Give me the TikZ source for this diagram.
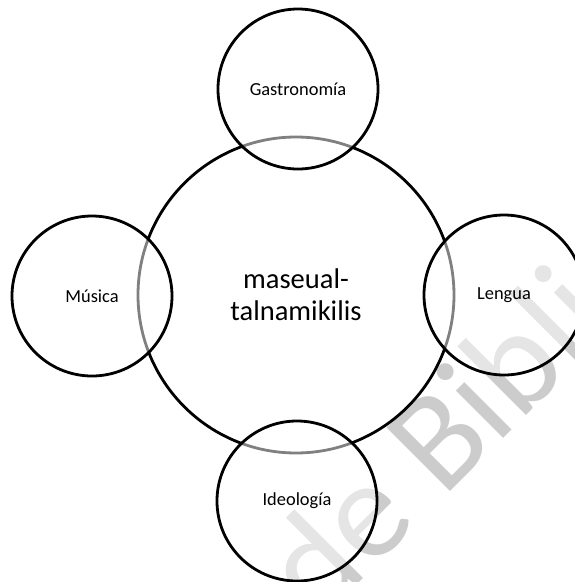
\documentclass[tikz,border=0pt]{standalone}
\usepackage{fontspec}
\setmainfont{Carlito}
\usepackage{tikz}
\usetikzlibrary{positioning}

\begin{document}
\begin{tikzpicture}[x=1pt, y=-1pt,
  bigcircle/.style={circle, draw=black, line width=2.8pt, minimum size=316pt, inner sep=0pt, align=center, font=\fontsize{28.5}{32}\selectfont},
  smallcircle/.style={circle, draw=black, line width=2.8pt, fill=white, fill opacity=0.5, text opacity=1, minimum size=160pt, inner sep=0pt, font=\fontsize{18.4}{22}\selectfont},
  watermark/.style={rotate=45, text=black!20, font=\fontsize{140}{140}\selectfont, inner sep=0pt}]
  \useasboundingbox (0,0) rectangle (575,582);
  \clip (0,0) rectangle (575,582);

  % Watermark
  \node[watermark, anchor=base east] (wmde) at (420,522) {de};
  \node[watermark, anchor=base west] (wmbib) at (443,499) {Biblio};

  % Central circle
  \node[bigcircle] (centro) at (296,295) {maseual-\\talnamikilis};

  % Outer circles
  \node[smallcircle] (gastro) at (298,89) {Gastronomía};
  \node[smallcircle] (musica) at (92,296) {Música};
  \node[smallcircle] (lengua) at (504,295) {Lengua};
  \node[smallcircle] (ideo) at (297,501) {Ideología};

\end{tikzpicture}
\end{document}
